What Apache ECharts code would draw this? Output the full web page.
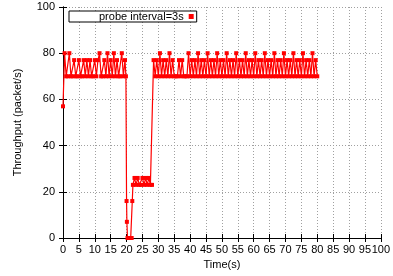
<!DOCTYPE html>
<html lang="en">
<head>
<meta charset="UTF-8">
<title>probe interval=3s</title>
<style>
    html, body { margin: 0; padding: 0; background: #fff; }
    #chart { width: 393px; height: 276px; }
</style>
</head>
<body>
<div id="chart"></div>
<script src="https://cdn.jsdelivr.net/npm/echarts@6/dist/echarts.min.js"></script>
<script>
/* sample times (s) */
var time = [
    0, 0.5, 1, 1.5, 2, 2.5, 3, 3.5, 4, 4.5, 5, 5.5, 6, 6.5, 7, 7.5, 8, 8.5, 9, 9.5,
    10, 10.5, 11, 11.5, 12, 12.5, 13, 13.5, 14, 14.5, 15, 15.5, 16, 16.5, 17, 17.5, 18, 18.5, 19, 19.5,
    19.8, 20, 20.1, 20.3, 20.8, 21.3, 21.6, 21.8,
    22, 22.5, 23, 23.5, 24, 24.5, 25, 25.5, 26, 26.5, 27, 27.5, 28,
    28.5, 29, 29.5, 30, 30.5, 31, 31.5, 32, 32.5, 33, 33.5, 34, 34.5, 35, 35.5, 36, 36.5, 37, 37.5, 38, 38.5, 39, 39.5,
    40, 40.5, 41, 41.5, 42, 42.5, 43, 43.5, 44, 44.5, 45, 45.5, 46, 46.5, 47, 47.5, 48, 48.5, 49, 49.5,
    50, 50.5, 51, 51.5, 52, 52.5, 53, 53.5, 54, 54.5, 55, 55.5, 56, 56.5, 57, 57.5, 58, 58.5, 59, 59.5,
    60, 60.5, 61, 61.5, 62, 62.5, 63, 63.5, 64, 64.5, 65, 65.5, 66, 66.5, 67, 67.5, 68, 68.5, 69, 69.5,
    70, 70.5, 71, 71.5, 72, 72.5, 73, 73.5, 74, 74.5, 75, 75.5, 76, 76.5, 77, 77.5, 78, 78.5, 79, 79.5,
    80
];
/* throughput (packet/s) */
var throughput = [
    57, 80, 70, 70, 80, 70, 70, 77, 70, 70, 77, 70, 70, 77, 70, 77, 70, 77, 70, 70,
    77, 70, 77, 80, 70, 70, 77, 70, 80, 70, 77, 70, 80, 70, 77, 70, 70, 80, 70, 77,
    70, 16, 7, 0, 0, 0, 0, 16,
    23, 26, 23, 26, 23, 23, 26, 23, 26, 23, 26, 23, 23,
    77, 70, 77, 70, 80, 70, 77, 70, 77, 70, 80, 70, 77, 70, 70, 70, 77, 70, 77, 70, 70, 70, 80,
    70, 77, 70, 77, 70, 80, 70, 77, 70, 77, 70, 80, 70, 77, 70, 77, 70, 80, 70, 77,
    70, 77, 70, 80, 70, 77, 70, 77, 70, 80, 70, 77, 70, 77, 70, 80, 70, 77, 70, 77,
    70, 80, 70, 77, 70, 77, 70, 80, 70, 77, 70, 77, 70, 80, 70, 77, 70, 77, 70, 80,
    70, 77, 70, 77, 70, 80, 70, 77, 70, 77, 70, 80, 70, 77, 70, 77, 70, 80, 70, 77,
    70
];
var seriesName = 'probe interval=3s';

var chart = echarts.init(document.getElementById('chart'));
var font = 'Liberation Sans, Arial, sans-serif';
var dotted = { color: '#a0a0a0', type: [1, 2], width: 1 };
var frame = { show: true, lineStyle: { color: '#000', width: 1 } };
var tick = { show: true, inside: true, length: 4, lineStyle: { color: '#000' } };

var option = {
    animation: false,
    textStyle: { fontFamily: font },
    grid: { left: 63, right: 9, top: 7, bottom: 38 },
    legend: {
        data: [seriesName],
        left: 69,
        top: 11,
        align: 'right',
        padding: [0, 3, 0, 30],
        itemWidth: 5,
        itemHeight: 5,
        itemGap: 4,
        backgroundColor: '#fff',
        borderColor: '#000',
        borderWidth: 1,
        borderRadius: 0,
        icon: 'rect',
        textStyle: { fontFamily: font, fontSize: 11, color: '#000', lineHeight: 11, padding: [0, 0, 0, 0] }
    },
    xAxis: [
        {
            type: 'value', min: 0, max: 100, interval: 5,
            name: 'Time(s)', nameLocation: 'middle', nameGap: 21,
            nameTextStyle: { fontSize: 11, color: '#000' },
            axisLine: frame, axisTick: tick,
            axisLabel: { fontSize: 11, color: '#000', margin: 6, hideOverlap: false },
            splitLine: { show: true, lineStyle: dotted }
        },
        {
            type: 'value', min: 0, max: 100, interval: 5, position: 'top',
            axisLine: frame, axisTick: tick,
            axisLabel: { show: false }, splitLine: { show: false }
        }
    ],
    yAxis: [
        {
            type: 'value', min: 0, max: 100, interval: 20,
            name: 'Throughput (packet/s)', nameLocation: 'middle', nameGap: 40,
            nameTextStyle: { fontSize: 11, color: '#000' },
            axisLine: frame, axisTick: tick,
            axisLabel: { fontSize: 11, color: '#000', margin: 8 },
            splitLine: { show: true, lineStyle: dotted }
        },
        {
            type: 'value', min: 0, max: 100, interval: 20, position: 'right',
            axisLine: frame, axisTick: tick,
            axisLabel: { show: false }, splitLine: { show: false }
        }
    ],
    series: [
        {
            name: seriesName,
            type: 'line',
            symbol: 'rect',
            symbolSize: 4,
            showAllSymbol: true,
            itemStyle: { color: '#ff0000' },
            lineStyle: { color: '#ff0000', width: 1.2 },
            data: time.map(function (t, i) { return [t, throughput[i]]; })
        }
    ]
};
chart.setOption(option);
</script>
</body>
</html>
